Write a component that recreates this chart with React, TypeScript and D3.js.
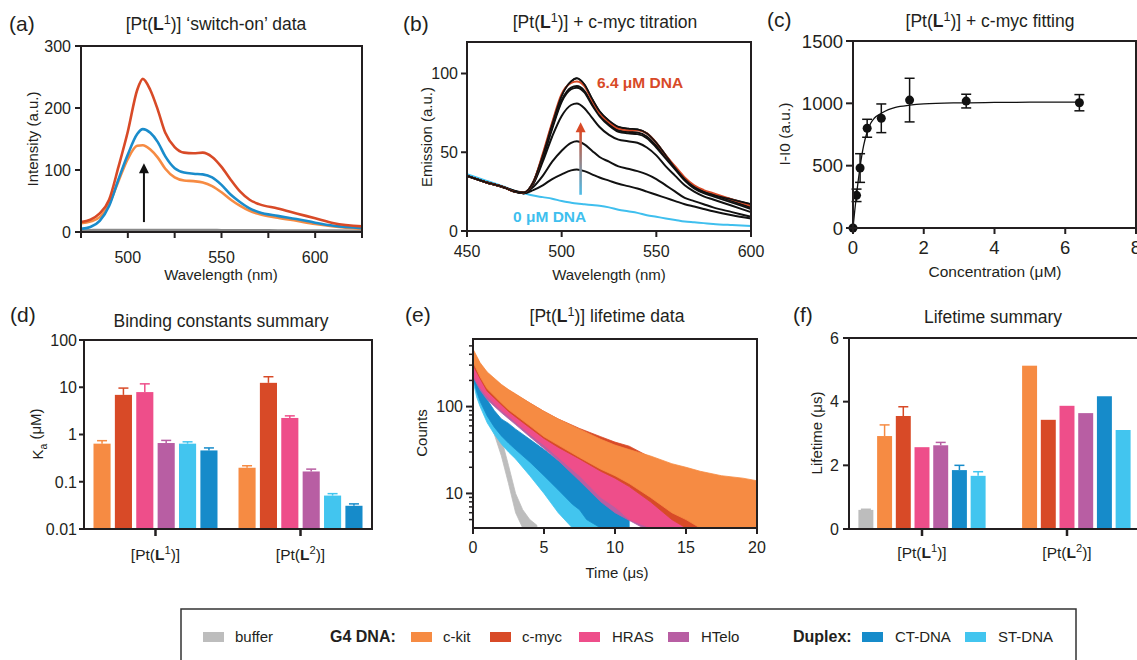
import React from 'react';
import * as d3 from 'd3';

// ---------------- DATA ----------------
// colours per DNA
const colBuffer = '#bdbdbd';
const colCkit = '#f68b43';
const colCmyc = '#d84a27';
const colHras = '#ee4e8a';
const colHtelo = '#b85ea3';
const colCt = '#168bca';
const colSt = '#42c5ef';

// (a) switch-on spectra
const aWavelength = [475, 480, 485, 490, 495, 500, 505, 508, 512, 516, 520, 525, 530, 535, 540, 545, 550, 555, 560, 565, 570, 580, 590, 600, 610, 625];
const aCmyc = [16, 20, 30, 52, 105, 162, 229, 247, 229, 197, 160, 137, 128, 127, 128, 121, 105, 84, 65, 52, 45, 38, 30, 22, 14, 9];
const aCt = [5, 8, 18, 42, 85, 125, 158, 166, 160, 145, 122, 103, 96, 94, 93, 88, 76, 60, 48, 38, 32, 26, 21, 15, 10, 6];
const aCkit = [14, 17, 24, 45, 82, 118, 139, 140, 133, 120, 102, 88, 83, 82, 80, 74, 64, 52, 42, 34, 29, 23, 18, 13, 9, 5];
const aBuffer = [2, 2.5, 3, 3, 3, 3, 3, 3, 3, 3, 3, 3, 3, 3, 3, 3, 2.5, 2.5, 2.5, 2.5, 2.5, 2, 2, 2, 2, 1.5];
const aXTicks = [475, 500, 525, 550, 575, 600, 625];
const aXLabels = ['', '500', '', '550', '', '600', ''];
const aYTicks = [0, 100, 200, 300];
const aArrow = [16, 111];
const aArrowX = 508.6;

// (b) titration spectra
const bWavelength = [450, 460, 470, 475, 480, 485, 490, 495, 500, 505, 508, 512, 516, 520, 525, 530, 535, 540, 545, 550, 555, 560, 565, 570, 575, 580, 590, 600];
const b0uM = [36, 32, 28, 25.5, 24, 22.5, 21.5, 20.5, 19, 18, 17.5, 17, 16.5, 16, 15, 13.5, 12.5, 11.5, 10, 9, 8, 7, 6, 5.5, 5, 4.5, 3.8, 3.2];
const bC1 = [35, 31, 27.5, 25.5, 24, 26, 29, 33, 36, 38.5, 39, 38, 36, 34, 32, 30, 28.5, 27, 25, 23, 21, 19, 17, 15.5, 14, 12.5, 10, 8];
const bC2 = [35, 31, 27.5, 25.5, 24.5, 28, 35, 44, 51, 56, 57, 55, 51, 47, 44, 41, 39.5, 38, 36, 33, 29, 25, 21, 19, 17, 15, 12, 9];
const bC3 = [35, 31, 27.5, 25, 24, 30, 44, 60, 73, 80, 81, 78, 72, 66, 61, 58, 57, 56, 53, 48, 41, 35, 29, 25, 22, 20, 16, 12];
const bC4 = [35, 31, 27.5, 25, 24, 30, 46, 65, 82, 90, 91, 88, 80, 73, 67, 63, 62, 61.5, 59, 53, 46, 39, 32, 27, 24, 22, 18, 14];
const bC5 = [35, 31, 27.5, 25, 24, 31, 47, 66, 83, 91, 92, 89, 81, 74, 68, 64, 63, 62.5, 60, 54, 47, 40, 33, 28, 25, 23, 19, 15];
const bC6 = [35, 31, 27.5, 25, 24.5, 31, 48, 68, 86, 95, 97, 93, 84, 76, 70, 66, 65, 64.5, 62, 56, 48, 40, 33, 28, 25, 23, 20, 17];
const b64uM = [35, 31, 27.5, 25, 24.5, 31, 49, 69, 87, 94, 95, 92, 83, 75, 69, 65, 64, 64, 62, 56, 48, 41, 34, 29, 26, 24, 20, 16];
const bXTicks = [450, 500, 550, 600];
const bYTicks = [0, 50, 100];
const bArrow = [23, 69];
const bArrowX = 510;

// (c) fitting
const cConc = [0, 0.1, 0.2, 0.4, 0.8, 1.6, 3.2, 6.4];
const cSignal = [0, 262, 481, 800, 880, 1026, 1018, 1005];
const cError = [0, 50, 115, 72, 115, 175, 55, 65];
const cFitX = [0, 0.05, 0.1, 0.15, 0.2, 0.3, 0.4, 0.5, 0.6, 0.8, 1.0, 1.2, 1.6, 2.0, 3.0, 4.0, 5.0, 6.4];
const cFitY = [0, 140, 270, 385, 490, 660, 770, 840, 880, 920, 950, 968, 985, 995, 1004, 1007, 1009, 1010];
const cXTicks = [0, 2, 4, 6, 8];
const cYTicks = [0, 500, 1000, 1500];

// (d) binding constants (log)
const dSeries = ['ckit', 'cmyc', 'hras', 'htelo', 'st', 'ct'];
const dColors = [colCkit, colCmyc, colHras, colHtelo, colSt, colCt];
const dKaL1 = [0.64, 6.9, 7.9, 0.66, 0.64, 0.46];
const dErrL1 = [0.1, 2.7, 3.9, 0.09, 0.06, 0.06];
const dKaL2 = [0.198, 12.4, 2.24, 0.165, 0.051, 0.031];
const dErrL2 = [0.02, 4.3, 0.24, 0.02, 0.005, 0.003];
const dYTicks = [0.01, 0.1, 1, 10, 100];
const dYLabels = ['0.01', '0.1', '1', '10', '100'];

// (e) lifetime decays: envelopes (upper / lower counts)
const eOrangeT = [0, 0.03, 0.5, 1, 2, 2.5, 3, 4, 5, 6, 7.5, 9, 10, 11, 12.5, 14, 15, 16, 17.5, 19, 20];
const eOrangeHi = [600, 450, 320, 250, 180, 157, 140, 110, 88, 72, 55, 42, 36, 32, 27, 22, 20, 18, 16, 15, 14];
const eOrangeLo = [4, 320, 220, 160, 110, 92, 80, 60, 45, 36, 26, 19, 16, 13, 9, 6, 5, 4, 4, 4, 4];
const eRedT = [0, 0.5, 1, 2, 2.5, 3, 4, 5, 6, 7.5, 9, 10, 11, 12.5, 14, 15, 16, 17.5, 19, 20];
const eRedHi = [430, 310, 242, 176, 155, 138, 110, 88, 72, 56, 45, 39, 35, 26, 21, 19, 17, 15, 14, 13];
const eRedLo = [300, 210, 150, 105, 88, 76, 57, 43, 34, 25, 18, 15, 12, 8, 5, 4, 4, 4, 4, 4];
const eHrasT = [0, 0.5, 1, 2, 2.5, 3, 4, 5, 6, 7.5, 9, 10, 11, 12.5, 14, 15, 16, 17];
const eHrasHi = [300, 220, 175, 135, 120, 105, 82, 65, 50, 33, 21, 16, 12, 9, 6.5, 5.5, 5, 4.5];
const eHrasLo = [230, 165, 130, 90, 78, 66, 48, 36, 26, 16, 9, 7, 5, 4, 4, 4, 4, 4];
const eHteloT = [0, 0.5, 1, 2, 3, 4, 5, 6, 7.5, 9, 10, 12, 14];
const eHteloHi = [290, 210, 165, 125, 97, 75, 58, 45, 30, 19, 14, 8, 5];
const eHteloLo = [220, 155, 120, 85, 62, 45, 33, 24, 14, 8, 6, 4, 4];
const eCtT = [0, 0.25, 0.5, 1, 1.5, 2, 2.5, 3, 4, 5, 6, 7, 7.5, 8, 9, 10, 10.5, 11];
const eCtHi = [280, 200, 157, 120, 90, 72, 64, 55, 42, 32, 24, 18, 16, 13, 10, 7, 6, 5];
const eCtLo = [220, 150, 115, 78, 58, 46, 38, 32, 23, 16, 11, 7.5, 6.5, 5, 4, 4, 4, 4];
const eStT = [0, 0.25, 0.5, 1, 1.5, 2, 2.5, 3, 4, 5, 6, 7, 8, 9];
const eStHi = [260, 185, 140, 105, 80, 65, 55, 46, 33, 24, 16, 11, 7, 5];
const eStLo = [200, 130, 100, 65, 48, 37, 30, 25, 16, 10, 6, 4, 4, 4];
const eBufT = [0, 0.5, 1, 1.5, 2, 2.5, 3, 3.5, 4, 4.5];
const eBufHi = [260, 170, 105, 68, 43, 21, 10, 6.5, 5, 4.3];
const eBufLo = [200, 120, 75, 48, 27, 13, 6, 4, 4, 4];
const eXTicks = [0, 5, 10, 15, 20];
const eYMajor = [10, 100];
const eYMinor = [5, 6, 7, 8, 9, 20, 30, 40, 50, 60, 70, 80, 90, 200, 300, 400, 500];

// (f) lifetimes
const fSeries = ['buffer', 'ckit', 'cmyc', 'hras', 'htelo', 'ct', 'st'];
const fColors = [colBuffer, colCkit, colCmyc, colHras, colHtelo, colCt, colSt];
const fL1 = [0.6, 2.92, 3.55, 2.57, 2.63, 1.85, 1.67];
const fErrL1 = [0.02, 0.35, 0.29, 0, 0.09, 0.15, 0.13];
const fL2 = [null, 5.13, 3.43, 3.87, 3.64, 4.17, 3.11];
const fYTicks = [0, 2, 4, 6];

const groups = ['L1', 'L2'];

// ---------------- DRAWING ----------------
const FONT = '"Liberation Sans", Arial, Helvetica, sans-serif';
const AX = '#231f20';
const TITLE_FS = 17.5;
const AXT_FS = 15;

type P = { l: number; t: number; r: number; b: number };
const PA: P = { l: 81, t: 46, r: 362, b: 232 };
const PB: P = { l: 467, t: 42, r: 751, b: 231 };
const PC: P = { l: 853, t: 41, r: 1136, b: 228 };
const PD: P = { l: 84, t: 340, r: 372, b: 529 };
const PE: P = { l: 473, t: 339, r: 757, b: 528 };
const PF: P = { l: 849, t: 338, r: 1140, b: 529 };

function Box({ p }: { p: P }) {
  return <rect x={p.l} y={p.t} width={p.r - p.l} height={p.b - p.t} fill="none" stroke={AX} strokeWidth={2} />;
}

function YAxis({ p, scale, values, labels, fs = 16, len = 6, gap = 4 }: any) {
  return (
    <g>
      {values.map((v: number, i: number) => (
        <g key={i}>
          <line x1={p.l} x2={p.l - len} y1={scale(v)} y2={scale(v)} stroke={AX} strokeWidth={2} />
          <text x={p.l - len - gap} y={scale(v)} dy="0.36em" textAnchor="end" fontSize={fs} fill={AX}>
            {labels ? labels[i] : String(v)}
          </text>
        </g>
      ))}
    </g>
  );
}

function XAxis({ p, scale, values, labels, fs = 16, len = 6, base = 25 }: any) {
  return (
    <g>
      {values.map((v: number, i: number) => (
        <g key={i}>
          <line x1={scale(v)} x2={scale(v)} y1={p.b} y2={p.b + len} stroke={AX} strokeWidth={2} />
          <text x={scale(v)} y={p.b + base} textAnchor="middle" fontSize={fs} fill={AX}>
            {labels ? labels[i] : String(v)}
          </text>
        </g>
      ))}
    </g>
  );
}

function PtL({ n }: { n: number }) {
  return (
    <>
      <tspan>[Pt(</tspan>
      <tspan fontWeight="bold">L</tspan>
      <tspan fontSize="0.72em" dy="-0.5em">{n}</tspan>
      <tspan dy="0.36em">)]</tspan>
    </>
  );
}

function Title({ x, y, children }: any) {
  return (
    <text x={x} y={y} textAnchor="middle" fontSize={TITLE_FS} fill={AX}>
      {children}
    </text>
  );
}

function Letter({ x, y, s }: any) {
  return (
    <text x={x} y={y} fontSize={21} fill={AX}>
      {s}
    </text>
  );
}

function YTitle({ x, y, children, fs = AXT_FS }: any) {
  return (
    <text transform={`translate(${x},${y}) rotate(-90)`} textAnchor="middle" fontSize={fs} fill={AX}>
      {children}
    </text>
  );
}

export default function App() {
  // ---- (a)
  const aX = d3.scaleLinear().domain([475, 625]).range([PA.l, PA.r]);
  const aY = d3.scaleLinear().domain([0, 300]).range([PA.b, PA.t]);
  const aLine = (vals: number[]) =>
    d3.line<number>().x((_, i) => aX(aWavelength[i])).y((d) => aY(d)).curve(d3.curveMonotoneX)(vals) as string;

  // ---- (b)
  const bX = d3.scaleLinear().domain([450, 600]).range([PB.l, PB.r]);
  const bY = d3.scaleLinear().domain([0, 120]).range([PB.b, PB.t]);
  const bLine = (vals: number[]) =>
    d3.line<number>().x((_, i) => bX(bWavelength[i])).y((d) => bY(d)).curve(d3.curveMonotoneX)(vals) as string;
  const bBlack = [bC1, bC2, bC3, bC4, bC5, bC6];

  // ---- (c)
  const cX = d3.scaleLinear().domain([0, 8]).range([PC.l, PC.r]);
  const cY = d3.scaleLinear().domain([0, 1500]).range([PC.b, PC.t]);
  const cLine = d3.line<number>().x((_, i) => cX(cFitX[i])).y((d) => cY(d)).curve(d3.curveMonotoneX)(cFitY) as string;

  // ---- (d)
  const dY = d3.scaleLog().domain([0.01, 100]).range([PD.b, PD.t]);
  const dG = d3.scalePoint().domain(groups).range([PD.l, PD.r]).padding(0.493);
  const dIn = d3.scaleBand().domain(dSeries).range([-62, 62]).paddingInner(0.2);
  const dVals = [dKaL1, dKaL2];
  const dErrs = [dErrL1, dErrL2];

  // ---- (e)
  const eX = d3.scaleLinear().domain([0, 20]).range([PE.l, PE.r]);
  const eY = d3.scaleLog().domain([4, 600]).range([PE.b, PE.t]).clamp(true);
  const eArea = (t: number[], hi: number[], lo: number[]) =>
    d3
      .area<number>()
      .x((_, i) => eX(t[i]))
      .y0((_, i) => eY(lo[i]))
      .y1((d) => eY(d))
      .curve(d3.curveLinear)(hi) as string;
  const eTraces = [
    { t: eBufT, hi: eBufHi, lo: eBufLo, c: colBuffer },
    { t: eStT, hi: eStHi, lo: eStLo, c: colSt },
    { t: eCtT, hi: eCtHi, lo: eCtLo, c: colCt },
    { t: eHteloT, hi: eHteloHi, lo: eHteloLo, c: colHtelo },
    { t: eHrasT, hi: eHrasHi, lo: eHrasLo, c: colHras },
    { t: eRedT, hi: eRedHi, lo: eRedLo, c: colCmyc },
    { t: eOrangeT, hi: eOrangeHi, lo: eOrangeLo, c: colCkit },
  ];

  // ---- (f)
  const fY = d3.scaleLinear().domain([0, 6]).range([PF.b, PF.t]);
  const fG = d3.scalePoint().domain(groups).range([PF.l, PF.r]).padding(0.5035);
  const fIn = d3.scaleBand().domain(fSeries).range([-63.6, 63.6]).paddingInner(0.2);
  const fVals = [fL1, fL2];

  const legendX = { swatch: [203, 411, 490, 579, 668, 862, 965], text: [235, 443, 522, 612, 701, 895, 998] };
  const legendLabels = ['buffer', 'c-kit', 'c-myc', 'HRAS', 'HTelo', 'CT-DNA', 'ST-DNA'];
  const legendColors = [colBuffer, colCkit, colCmyc, colHras, colHtelo, colCt, colSt];

  return (
    <svg
      width={1137}
      height={660}
      style={{ position: 'absolute', left: 0, top: 0, background: '#fff' }}
      fontFamily={FONT}
    >
      <defs>
        <clipPath id="clipE">
          <rect x={PE.l} y={PE.t} width={PE.r - PE.l} height={PE.b - PE.t} />
        </clipPath>
        <linearGradient id="bArrowGrad" x1="0" y1="1" x2="0" y2="0">
          <stop offset="0" stopColor="#4dbde9" />
          <stop offset="1" stopColor={colCmyc} />
        </linearGradient>
      </defs>
      <rect x={0} y={0} width={1137} height={660} fill="#fff" />

      {/* ===== (a) ===== */}
      <Letter x={9} y={31} s="(a)" />
      <Title x={216} y={30}>
        <PtL n={1} />
        <tspan> ‘switch-on’ data</tspan>
      </Title>
      <path d={aLine(aBuffer)} fill="none" stroke="#8a8a8a" strokeWidth={3} />
      <path d={aLine(aCkit)} fill="none" stroke={colCkit} strokeWidth={2.6} />
      <path d={aLine(aCt)} fill="none" stroke="#1a8ccb" strokeWidth={2.6} />
      <path d={aLine(aCmyc)} fill="none" stroke={colCmyc} strokeWidth={2.6} />
      <line x1={aX(aArrowX)} x2={aX(aArrowX)} y1={aY(aArrow[0])} y2={aY(aArrow[1]) + 8} stroke="#111" strokeWidth={2} />
      <path
        d={`M${aX(aArrowX) - 5},${aY(aArrow[1]) + 10} L${aX(aArrowX)},${aY(aArrow[1])} L${aX(aArrowX) + 5},${aY(aArrow[1]) + 10} Z`}
        fill="#111"
      />
      <Box p={PA} />
      <YAxis p={PA} scale={aY} values={aYTicks} />
      <XAxis p={PA} scale={aX} values={aXTicks} labels={aXLabels} base={31} />
      <YTitle x={38} y={139}>Intensity (a.u.)</YTitle>
      <text x={221} y={280} textAnchor="middle" fontSize={AXT_FS} fill={AX}>
        Wavelength (nm)
      </text>

      {/* ===== (b) ===== */}
      <Letter x={403} y={31} s="(b)" />
      <Title x={605} y={28}>
        <PtL n={1} />
        <tspan> + c-myc titration</tspan>
      </Title>
      <path d={bLine(b0uM)} fill="none" stroke="#3fbfee" strokeWidth={2} />
      {bBlack.map((c, i) => (
        <path key={i} d={bLine(c)} fill="none" stroke="#111" strokeWidth={2} />
      ))}
      <path d={bLine(b64uM)} fill="none" stroke={colCmyc} strokeWidth={2} />
      <path d={bLine(bC6)} fill="none" stroke="#111" strokeWidth={1.6} />
      <rect x={bX(bArrowX) - 1.3} y={bY(bArrow[1]) + 8} width={2.6} height={bY(bArrow[0]) - bY(bArrow[1]) - 8} fill="url(#bArrowGrad)" />
      <path
        d={`M${bX(bArrowX) - 5},${bY(bArrow[1]) + 10} L${bX(bArrowX)},${bY(bArrow[1])} L${bX(bArrowX) + 5},${bY(bArrow[1]) + 10} Z`}
        fill={colCmyc}
      />
      <text x={597} y={88} fontSize={15.5} fontWeight="bold" fill={colCmyc}>
        6.4 μM DNA
      </text>
      <text x={513} y={222} fontSize={15.5} fontWeight="bold" fill="#3fbfee">
        0 μM DNA
      </text>
      <Box p={PB} />
      <YAxis p={PB} scale={bY} values={bYTicks} gap={3} />
      <XAxis p={PB} scale={bX} values={bXTicks} base={26} />
      <YTitle x={432} y={137}>Emission (a.u.)</YTitle>
      <text x={609} y={280} textAnchor="middle" fontSize={AXT_FS} fill={AX}>
        Wavelength (nm)
      </text>

      {/* ===== (c) ===== */}
      <Letter x={767} y={27} s="(c)" />
      <Title x={990} y={27}>
        <PtL n={1} />
        <tspan> + c-myc fitting</tspan>
      </Title>
      <path d={cLine} fill="none" stroke="#111" strokeWidth={1.3} />
      {cConc.map((x, i) => (
        <g key={i}>
          {cError[i] > 0 && (
            <g stroke="#111" strokeWidth={1.5}>
              <line x1={cX(x)} x2={cX(x)} y1={cY(cSignal[i] - cError[i])} y2={cY(cSignal[i] + cError[i])} />
              <line x1={cX(x) - 5} x2={cX(x) + 5} y1={cY(cSignal[i] - cError[i])} y2={cY(cSignal[i] - cError[i])} />
              <line x1={cX(x) - 5} x2={cX(x) + 5} y1={cY(cSignal[i] + cError[i])} y2={cY(cSignal[i] + cError[i])} />
            </g>
          )}
          <circle cx={cX(x)} cy={cY(cSignal[i])} r={4.5} fill="#111" />
        </g>
      ))}
      <Box p={PC} />
      <YAxis p={PC} scale={cY} values={cYTicks} fs={18.5} len={7} gap={3} />
      <XAxis p={PC} scale={cX} values={cXTicks} fs={18.5} base={26} />
      <YTitle x={790} y={134} fs={15.5}>
        I-I0 (a.u.)
      </YTitle>
      <text x={995} y={277} textAnchor="middle" fontSize={15.5} fill={AX}>
        Concentration (μM)
      </text>

      {/* ===== (d) ===== */}
      <Letter x={10} y={322} s="(d)" />
      <Title x={221} y={327}>
        <tspan>Binding constants summary</tspan>
      </Title>
      {groups.map((g, gi) =>
        dSeries.map((s, si) => {
          const x0 = (dG(g) as number) + (dIn(s) as number);
          const w = dIn.bandwidth();
          const v = dVals[gi][si];
          const e = dErrs[gi][si];
          return (
            <g key={g + s}>
              <line x1={x0 + w / 2} x2={x0 + w / 2} y1={dY(v)} y2={dY(v + e)} stroke={dColors[si]} strokeWidth={1.5} />
              <line x1={x0 + w / 2 - 5} x2={x0 + w / 2 + 5} y1={dY(v + e)} y2={dY(v + e)} stroke={dColors[si]} strokeWidth={1.5} />
              <rect x={x0} y={dY(v)} width={w} height={dY(0.01) - dY(v)} fill={dColors[si]} />
            </g>
          );
        })
      )}
      <Box p={PD} />
      <YAxis p={PD} scale={dY} values={dYTicks} labels={dYLabels} len={5} gap={2} />
      {groups.map((g, gi) => (
        <g key={g}>
          <line x1={dG(g) as number} x2={dG(g) as number} y1={PD.b} y2={PD.b + 7} stroke={AX} strokeWidth={2.5} />
          <text x={dG(g) as number} y={560} textAnchor="middle" fontSize={15.5} fill={AX}>
            <PtL n={gi + 1} />
          </text>
        </g>
      ))}
      <YTitle x={43} y={434}>
        <tspan>K</tspan>
        <tspan fontSize="0.7em" dy="0.35em">a</tspan>
        <tspan dy="-0.35em"> (μM)</tspan>
      </YTitle>

      {/* ===== (e) ===== */}
      <Letter x={405} y={322} s="(e)" />
      <Title x={607} y={322}>
        <PtL n={1} />
        <tspan> lifetime data</tspan>
      </Title>
      <g clipPath="url(#clipE)">
        {eTraces.map((tr, i) => (
          <path key={i} d={eArea(tr.t, tr.hi, tr.lo)} fill={tr.c} stroke={tr.c} strokeWidth={0.8} strokeLinejoin="round" />
        ))}
      </g>
      <Box p={PE} />
      {eYMajor.map((v, i) => (
        <g key={'M' + i}>
          <line x1={PE.l} x2={PE.l - 7} y1={eY(v)} y2={eY(v)} stroke={AX} strokeWidth={2} />
          <text x={PE.l - 10} y={eY(v)} dy="0.36em" textAnchor="end" fontSize={16} fill={AX}>
            {v}
          </text>
        </g>
      ))}
      {eYMinor.map((v, i) => (
        <line key={'m' + i} x1={PE.l} x2={PE.l - 4} y1={eY(v)} y2={eY(v)} stroke={AX} strokeWidth={1.5} />
      ))}
      <XAxis p={PE} scale={eX} values={eXTicks} base={25} />
      <YTitle x={427} y={433}>Counts</YTitle>
      <text x={617} y={578} textAnchor="middle" fontSize={AXT_FS} fill={AX}>
        Time (μs)
      </text>

      {/* ===== (f) ===== */}
      <Letter x={793} y={322} s="(f)" />
      <Title x={993} y={323}>
        <tspan>Lifetime summary</tspan>
      </Title>
      {groups.map((g, gi) =>
        fSeries.map((s, si) => {
          const v = fVals[gi][si];
          if (v == null) return null;
          const x0 = (fG(g) as number) + (fIn(s) as number);
          const w = fIn.bandwidth();
          const e = gi === 0 ? fErrL1[si] : 0;
          return (
            <g key={g + s}>
              {e > 0 && (
                <g stroke={fColors[si]} strokeWidth={1.5}>
                  <line x1={x0 + w / 2} x2={x0 + w / 2} y1={fY(v)} y2={fY(v + e)} />
                  <line x1={x0 + w / 2 - 5} x2={x0 + w / 2 + 5} y1={fY(v + e)} y2={fY(v + e)} />
                </g>
              )}
              <rect x={x0} y={fY(v)} width={w} height={fY(0) - fY(v)} fill={fColors[si]} />
            </g>
          );
        })
      )}
      <Box p={PF} />
      <YAxis p={PF} scale={fY} values={fYTicks} len={6} gap={4} />
      {groups.map((g, gi) => (
        <g key={g}>
          <line x1={fG(g) as number} x2={fG(g) as number} y1={PF.b} y2={PF.b + 7} stroke={AX} strokeWidth={2.5} />
          <text x={fG(g) as number} y={558} textAnchor="middle" fontSize={15.5} fill={AX}>
            <PtL n={gi + 1} />
          </text>
        </g>
      ))}
      <YTitle x={822} y={433}>
        Lifetime (μs)
      </YTitle>

      {/* ===== legend ===== */}
      <rect x={181} y={609} width={895} height={70} fill="none" stroke="#333" strokeWidth={1.5} />
      {legendLabels.map((l, i) => (
        <g key={l}>
          <rect x={legendX.swatch[i]} y={632} width={21} height={10} fill={legendColors[i]} />
          <text x={legendX.text[i]} y={642} fontSize={15} fill={AX}>
            {l}
          </text>
        </g>
      ))}
      <text x={330} y={642} fontSize={16} fontWeight="bold" fill={AX}>
        G4 DNA:
      </text>
      <text x={793} y={642} fontSize={16} fontWeight="bold" fill={AX}>
        Duplex:
      </text>
    </svg>
  );
}
